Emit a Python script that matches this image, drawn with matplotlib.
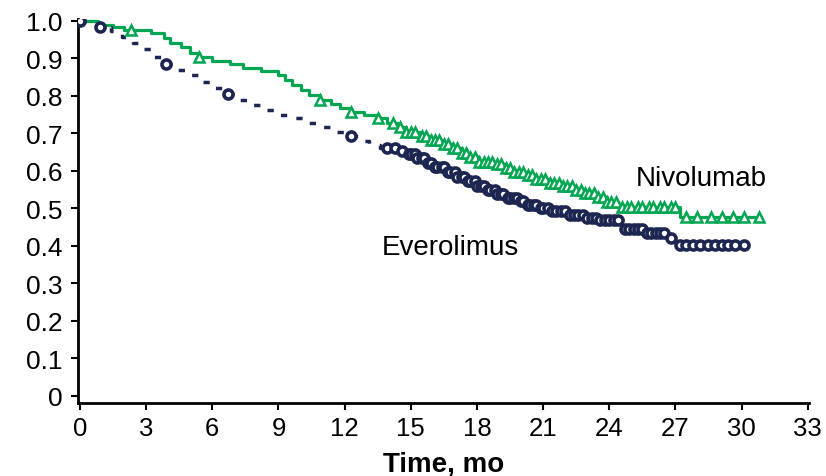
import numpy as np
import matplotlib
matplotlib.use("Agg")
import matplotlib.pyplot as plt

plt.rcParams['font.family'] = ['Liberation Sans', 'DejaVu Sans']

# Nivolumab KM steps (time in months, survival after step)
nivo_t = [0, 0.8, 1.5, 2.0, 3.2, 3.8, 4.1, 4.6, 5.0, 5.4, 6.0, 6.8, 7.4, 8.2, 9.0, 9.3,
          9.6, 10.0, 10.4, 10.9, 11.4, 11.8, 12.3, 12.9, 13.5, 13.9, 14.4, 14.8, 15.4,
          15.9, 16.4, 16.9, 17.3, 17.7, 18.1, 18.8, 19.3, 19.7, 20.2, 20.7, 21.3, 21.8,
          22.4, 22.9, 23.4, 23.9, 24.4, 27.2, 30.9]
nivo_s = [1.0, 0.99, 0.983, 0.975, 0.967, 0.955, 0.942, 0.93, 0.915, 0.903, 0.893, 0.884,
          0.874, 0.866, 0.856, 0.842, 0.828, 0.815, 0.802, 0.79, 0.779, 0.768, 0.758,
          0.749, 0.74, 0.728, 0.716, 0.703, 0.694, 0.683, 0.672, 0.66, 0.648, 0.636,
          0.625, 0.618, 0.608, 0.598, 0.589, 0.579, 0.569, 0.559, 0.549, 0.54, 0.53,
          0.518, 0.505, 0.478, 0.478]
nivo_cens = [2.3, 5.4, 10.9, 12.3, 13.5, 14.2, 14.5, 14.8, 15.0, 15.2, 15.5, 15.7, 15.9,
             16.1, 16.3, 16.5, 16.7, 16.9, 17.1, 17.3, 17.5, 17.7, 17.9, 18.1, 18.3, 18.5,
             18.7, 18.9, 19.1, 19.3, 19.5, 19.7, 19.9, 20.1, 20.3, 20.5, 20.7, 20.9, 21.1,
             21.3, 21.5, 21.7, 21.9, 22.1, 22.3, 22.5, 22.7, 22.9, 23.1, 23.3, 23.5, 23.7,
             23.9, 24.1, 24.3, 24.6, 24.8, 25.0, 25.3, 25.5, 25.8, 26.0, 26.3, 26.5, 26.8,
             27.0, 27.5, 28.0, 28.6, 29.1, 29.6, 30.1, 30.8]

# Everolimus KM steps
evero_t = [0, 0.5, 0.9, 1.4, 1.9, 2.4, 2.8, 3.3, 3.8, 4.3, 4.9, 5.5, 6.1, 6.6, 7.2, 7.8,
           8.4, 9.0, 9.6, 10.2, 10.8, 11.4, 12.0, 12.6, 13.1, 13.6, 14.4, 14.9, 15.3,
           15.7, 16.1, 16.6, 17.1, 17.6, 18.0, 18.4, 18.9, 19.4, 19.9, 20.3, 20.8, 21.4,
           22.2, 23.0, 23.6, 24.6, 25.6, 26.6, 27.0, 30.2]
evero_s = [1.0, 0.993, 0.985, 0.972, 0.958, 0.94, 0.925, 0.905, 0.885, 0.87, 0.855, 0.838,
           0.82, 0.805, 0.79, 0.776, 0.762, 0.75, 0.74, 0.728, 0.716, 0.704, 0.693, 0.68,
           0.668, 0.66, 0.653, 0.644, 0.635, 0.622, 0.61, 0.598, 0.585, 0.572, 0.56,
           0.549, 0.538, 0.529, 0.519, 0.508, 0.5, 0.492, 0.482, 0.474, 0.468, 0.445,
           0.435, 0.42, 0.402, 0.402]
evero_cens = [0.0, 0.9, 3.9, 6.7, 12.3, 13.9, 14.3, 14.6, 14.9, 15.0, 15.2, 15.3, 15.5,
              15.6, 15.8, 15.9, 16.1, 16.2, 16.4, 16.5, 16.7, 16.8, 17.0, 17.1, 17.3, 17.4,
              17.6, 17.7, 17.9, 18.0, 18.2, 18.3, 18.5, 18.6, 18.8, 18.9, 19.1, 19.2, 19.4,
              19.5, 19.7, 19.8, 20.0, 20.1, 20.3, 20.4, 20.6, 20.7, 20.9, 21.0, 21.2, 21.4,
              21.6, 21.8, 22.0, 22.2, 22.4, 22.6, 22.8, 23.0, 23.2, 23.4, 23.6, 23.8, 24.0,
              24.2, 24.4, 24.7, 24.9, 25.1, 25.3, 25.5, 25.7, 25.9, 26.1, 26.3, 26.5, 26.8,
              27.2, 27.5, 27.8, 28.1, 28.5, 28.8, 29.1, 29.4, 29.7, 30.1]

x_ticks = list(range(0, 34, 3))
y_ticks = [0, 0.1, 0.2, 0.3, 0.4, 0.5, 0.6, 0.7, 0.8, 0.9, 1.0]
y_labels = ['0', '0.1', '0.2', '0.3', '0.4', '0.5', '0.6', '0.7', '0.8', '0.9', '1.0']

GREEN = '#00a651'
NAVY = '#1d2551'


def step_at(ts, ss, q):
    ts = np.asarray(ts)
    ss = np.asarray(ss)
    idx = np.searchsorted(ts, q, side='right') - 1
    return ss[np.clip(idx, 0, len(ss) - 1)]


fig = plt.figure(figsize=(8.26, 4.77), dpi=100)
ax = fig.add_axes([0.0942, 0.153, 0.885, 0.805])

ax.plot(nivo_t, nivo_s, drawstyle='steps-post', color=GREEN, lw=2.3, zorder=3)
ax.plot(nivo_cens, step_at(nivo_t, nivo_s, nivo_cens), linestyle='none', marker='^',
        ms=7, mfc='white', mec=GREEN, mew=1.8, zorder=4)

ax.plot(evero_t, evero_s, drawstyle='steps-post', color=NAVY, lw=2.5,
        linestyle=(0, (1.8, 3.5)), dash_capstyle='butt', zorder=3)
ax.plot(evero_cens, step_at(evero_t, evero_s, evero_cens), linestyle='none', marker='o',
        ms=6.5, mfc='white', mec=NAVY, mew=2.6, zorder=4)

ax.text(25.2, 0.58, 'Nivolumab', fontsize=20, ha='left', va='center', color='black')
ax.text(13.7, 0.397, 'Everolimus', fontsize=20, ha='left', va='center', color='black')

ax.set_xlim(-0.1, 33.05)
ax.set_ylim(-0.019, 1.005)
ax.set_xticks(x_ticks)
ax.set_yticks(y_ticks)
ax.set_yticklabels(y_labels)
ax.tick_params(axis='x', labelsize=18.5, length=5, width=1.5, direction='out', pad=4)
ax.tick_params(axis='y', labelsize=19, length=5, width=1.5, direction='out', pad=6)
for s in ['top', 'right']:
    ax.spines[s].set_visible(False)
for s in ['left', 'bottom']:
    ax.spines[s].set_linewidth(2)
ax.set_xlabel('Time, mo', fontsize=20, fontweight='bold', labelpad=8)

fig.savefig('out.png', dpi=100)
